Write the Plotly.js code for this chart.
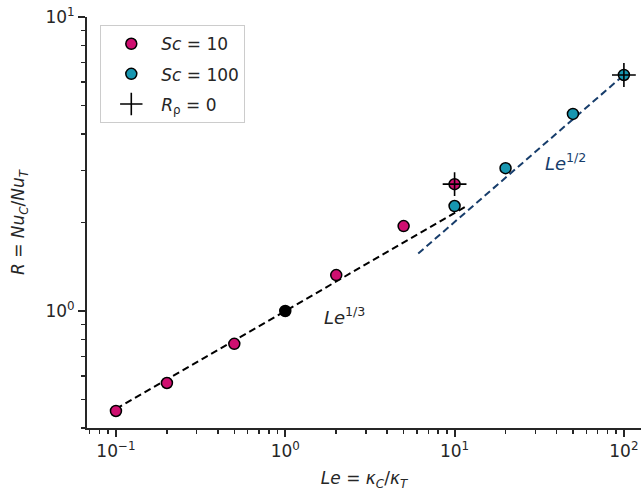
<!DOCTYPE html>
<html><head><meta charset="utf-8">
<script src="https://cdn.plot.ly/plotly-3.0.1.min.js"></script>
<style>body{margin:0;padding:0;background:#fff}#plot{width:641px;height:492px}</style>
</head><body><div id="plot"></div>
<script>
// Data
const le_sc10 = [0.1, 0.2, 0.5, 2, 5, 10];
const r_sc10  = [0.457, 0.569, 0.773, 1.325, 1.945, 2.70];
const le_sc100 = [10, 20, 50, 100];
const r_sc100  = [2.275, 3.06, 4.68, 6.35];
const le_ref = [1];
const r_ref = [1];
const le_rho0 = [10, 100];
const r_rho0 = [2.70, 6.35];
const le_fit13 = [0.1, 12];
const coef13 = 1.0;
const le_fit12 = [6.1, 100];
const coef12 = 0.635;
const xTickVals = [0.1, 1, 10, 100];
const xTickText = ['10<sup>−1</sup>', '10<sup>0</sup>', '10<sup>1</sup>', '10<sup>2</sup>'];
const yTickVals = [1, 10];
const yTickText = ['10<sup>0</sup>', '10<sup>1</sup>'];

const r_fit13 = le_fit13.map(v => coef13 * Math.pow(v, 1/3));
const r_fit12 = le_fit12.map(v => coef12 * Math.pow(v, 1/2));

const magenta = '#cf0f70', teal = '#1796b0', navy = '#173d6b', ink = '#262626';
const FONT = 'DejaVu Sans, sans-serif';

function minorVals(lo, hi){ const o=[]; for(let e=lo;e<=hi;e++){for(let k=2;k<=9;k++)o.push(k*Math.pow(10,e));} return o; }

const traces = [
  {x: le_fit13, y: r_fit13, mode:'lines', line:{color:'#000', width:2, dash:'7px,4px'}, showlegend:false, hoverinfo:'skip'},
  {x: le_fit12, y: r_fit12, mode:'lines', line:{color:navy, width:2, dash:'7px,4px'}, showlegend:false, hoverinfo:'skip'},
  {x: le_sc10, y: r_sc10, mode:'markers', name:'<i>Sc</i> = 10', legendgroup:'a',
   marker:{color:magenta, size:11, line:{color:'#000', width:1.5}}},
  {x: le_sc100, y: r_sc100, mode:'markers', name:'<i>Sc</i> = 100', legendgroup:'b',
   marker:{color:teal, size:11, line:{color:'#000', width:1.5}}},
  {x: le_ref, y: r_ref, mode:'markers', showlegend:false,
   marker:{color:'#000', size:11, line:{color:'#000', width:1.5}}},
  {x: le_rho0, y: r_rho0, mode:'markers', name:'<i>R</i><sub>ρ</sub> = 0', legendgroup:'c',
   marker:{symbol:'cross-thin-open', color:'#000', size:17, line:{color:'#000', width:1.6}}}
];

const layout = {
  width:641, height:492,
  margin:{l:87, r:0, t:17, b:64},
  paper_bgcolor:'#fff', plot_bgcolor:'#fff',
  font:{family:FONT, size:16, color:ink},
  showlegend:true,
  legend:{x:0.024, y:0.98, xanchor:'left', yanchor:'top', bgcolor:'rgba(255,255,255,0.9)',
          bordercolor:'#cccccc', borderwidth:1, font:{family:FONT, size:17, color:ink},
          traceorder:'grouped', tracegroupgap:5, itemwidth:50},
  xaxis:{type:'log', range:[-1.171, 2.101], showgrid:false, zeroline:false,
         showline:true, linecolor:ink, linewidth:2, ticks:'outside', ticklen:7, tickwidth:2, tickcolor:ink,
         tickvals:xTickVals, ticktext:xTickText, tickfont:{size:17, color:ink},
         minor:{tickvals:minorVals(-2,2), ticks:'outside', ticklen:4, tickwidth:1.5, tickcolor:ink, showgrid:false},
         title:{text:'<i>Le</i> = <i>κ<sub>C</sub></i>/<i>κ<sub>T</sub></i>', font:{size:17, color:ink}, standoff:12}},
  yaxis:{type:'log', range:[-0.398, 1], showgrid:false, zeroline:false,
         showline:true, linecolor:ink, linewidth:2, ticks:'outside', ticklen:7, tickwidth:2, tickcolor:ink,
         tickvals:yTickVals, ticktext:yTickText, tickfont:{size:17, color:ink},
         minor:{tickvals:minorVals(-1,1), ticks:'outside', ticklen:4, tickwidth:1.5, tickcolor:ink, showgrid:false},
         title:{text:'<i>R</i> = <i>Nu<sub>C</sub></i>/<i>Nu<sub>T</sub></i>', font:{size:17, color:ink}, standoff:16}},
  annotations:[
    {x:Math.log10(2.25), y:Math.log10(0.96), xref:'x', yref:'y', text:'<i>Le</i><sup>1/3</sup>', showarrow:false,
     font:{family:FONT, size:18, color:ink}, xanchor:'center', yanchor:'middle'},
    {x:Math.log10(45), y:Math.log10(3.2), xref:'x', yref:'y', text:'<i>Le</i><sup>1/2</sup>', showarrow:false,
     font:{family:FONT, size:18, color:navy}, xanchor:'center', yanchor:'middle'}
  ]
};

Plotly.newPlot('plot', traces, layout, {displayModeBar:false, staticPlot:true});
</script></body></html>
